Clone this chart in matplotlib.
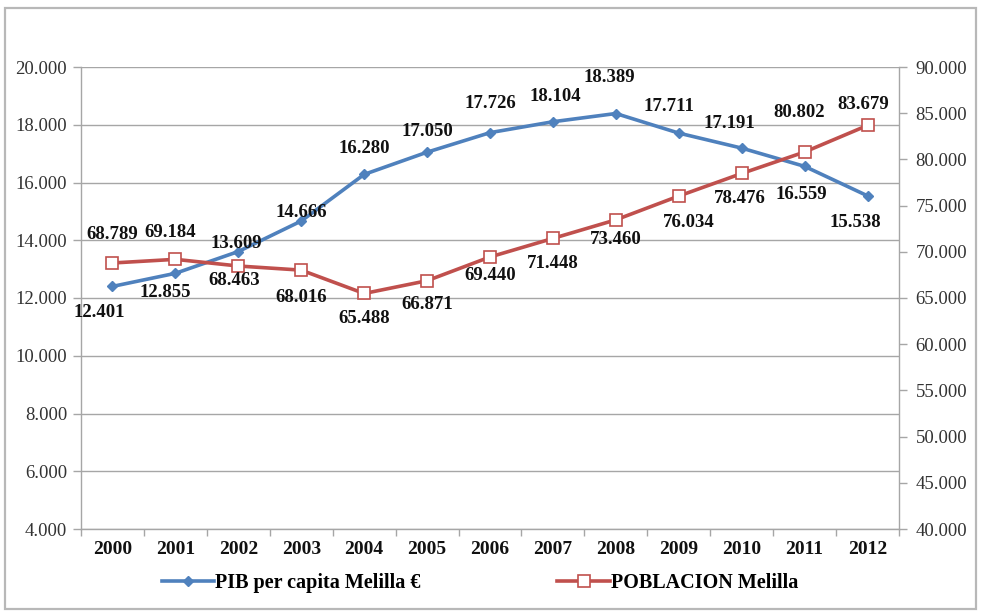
import matplotlib
matplotlib.use("Agg")
import matplotlib.pyplot as plt
from matplotlib.patches import Rectangle
from matplotlib.ticker import FuncFormatter, MultipleLocator, FixedLocator

years = ["2000", "2001", "2002", "2003", "2004", "2005", "2006",
         "2007", "2008", "2009", "2010", "2011", "2012"]
pib = [12401, 12855, 13609, 14666, 16280, 17050, 17726,
       18104, 18389, 17711, 17191, 16559, 15538]
poblacion = [68789, 69184, 68463, 68016, 65488, 66871, 69440,
             71448, 73460, 76034, 78476, 80802, 83679]

# label placement around each point: (dx, dy) in pixels, dy positive = down
pib_offsets = [(-13, 26), (-10, 19), (-2, -8), (0, -9), (0, -26), (0, -21), (0, -29),
               (2, -25), (-7, -36), (-10, -27), (-12, -25), (-3, 28), (-12, 27)]
pob_offsets = [(0, -28), (-5, -27), (-4, 14), (0, 27), (0, 25), (0, 24), (0, 19),
               (0, 25), (0, 20), (10, 26), (-2, 25), (-5, -39), (-4, -21)]

BLUE = "#4F81BD"
RED = "#C0504D"
GRID = "#A6A6A6"
SERIF = ["Liberation Serif", "DejaVu Serif"]

plt.rcParams["font.family"] = SERIF

fig = plt.figure(figsize=(9.81, 6.12), dpi=100)
fig.patches.append(Rectangle((5 / 981, 3 / 612), 971 / 981, 601 / 612,
                             transform=fig.transFigure, fill=False,
                             edgecolor="#B8B8B8", linewidth=1.6))

ax = fig.add_axes([81 / 981, 1 - 529 / 612, 818 / 981, 462 / 612])
ax2 = ax.twinx()

x = list(range(len(years)))

ax.plot(x, pib, color=BLUE, linewidth=2.6, marker="D", markersize=5,
        markerfacecolor=BLUE, markeredgecolor=BLUE, zorder=3,
        label="PIB per capita Melilla €")
ax2.plot(x, poblacion, color=RED, linewidth=2.6, marker="s", markersize=8,
         markerfacecolor="white", markeredgecolor=RED, markeredgewidth=1.2,
         zorder=3, label="POBLACION Melilla")

ax.set_xlim(-0.5, len(years) - 0.5)
ax.set_ylim(4000, 20000)
ax2.set_ylim(40000, 90000)

thousands = FuncFormatter(lambda v, p: f"{int(v):,}".replace(",", "."))
ax.yaxis.set_major_locator(MultipleLocator(2000))
ax.yaxis.set_major_formatter(thousands)
ax2.yaxis.set_major_locator(MultipleLocator(5000))
ax2.yaxis.set_major_formatter(thousands)

ax.grid(axis="y", color=GRID, linewidth=1.0)
ax.set_axisbelow(True)

ax.xaxis.set_major_locator(FixedLocator(x))
ax.set_xticklabels(years, fontsize=14, fontweight="bold", color="#111111")
ax.xaxis.set_minor_locator(FixedLocator([i + 0.5 for i in range(-1, len(years))]))
ax.tick_params(axis="x", which="major", length=0, pad=9)
ax.tick_params(axis="x", which="minor", length=5, color=GRID, width=1)

ax.tick_params(axis="y", length=6, color=GRID, width=1, labelsize=13.5,
               labelcolor="#333333", pad=4)
ax2.tick_params(axis="y", length=6, color=GRID, width=1, labelsize=13.5,
                labelcolor="#333333", pad=6)

for a in (ax, ax2):
    for s in a.spines.values():
        s.set_color(GRID)
        s.set_linewidth(1.0)
    a.spines["top"].set_visible(False)
ax.spines["right"].set_visible(False)
ax2.spines["left"].set_visible(False)
ax2.spines["bottom"].set_visible(False)

label_style = dict(fontsize=13.5, fontweight="bold", color="#111111",
                   ha="center", va="center", textcoords="offset pixels",
                   zorder=5)
for xi, v, (dx, dy) in zip(x, pib, pib_offsets):
    ax.annotate(f"{v:,}".replace(",", "."), (xi, v), xytext=(dx, -dy), **label_style)
for xi, v, (dx, dy) in zip(x, poblacion, pob_offsets):
    ax2.annotate(f"{v:,}".replace(",", "."), (xi, v), xytext=(dx, -dy), **label_style)

h1, l1 = ax.get_legend_handles_labels()
h2, l2 = ax2.get_legend_handles_labels()
fig.legend(h1 + h2, l1 + l2, loc="center", bbox_to_anchor=(480 / 981, 1 - 583 / 612),
           ncol=2, frameon=False, handlelength=2.6, handletextpad=0.05,
           columnspacing=6.8, prop={"family": SERIF, "weight": "bold", "size": 14.5})

fig.savefig("out.png", dpi=100, facecolor="white")
